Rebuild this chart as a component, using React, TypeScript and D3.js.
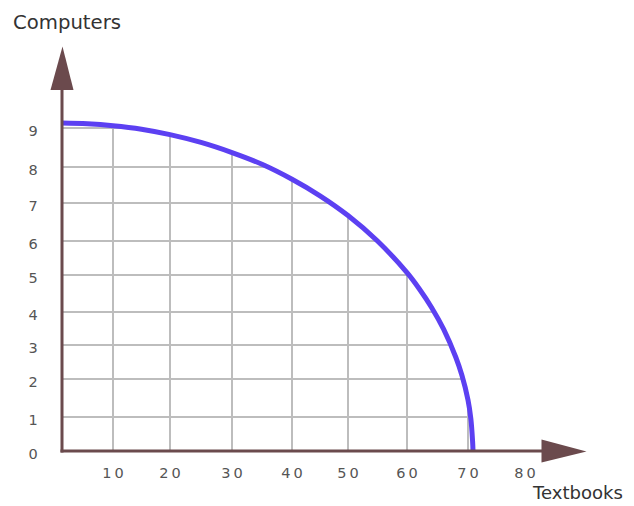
import React from "react";
import * as d3 from "d3";

const xTicks = [10, 20, 30, 40, 50, 60, 70, 80];
const yTicks = [0, 1, 2, 3, 4, 5, 6, 7, 8, 9];
const gridX = [10, 20, 30, 40, 50, 60, 70];
const gridY = [1, 2, 3, 4, 5, 6, 7, 8, 9];

// Production possibilities frontier (textbooks, computers)
const textbooks = [0, 5, 10, 15, 20, 25, 30, 35, 40, 45, 50, 55, 60, 62, 64, 66, 68, 69, 70, 70.5, 70.8, 70.88];
const computers = [9.13, 9.11, 9.06, 8.97, 8.83, 8.63, 8.37, 8.07, 7.66, 7.2, 6.67, 6.0, 5.07, 4.63, 4.13, 3.48, 2.64, 2.11, 1.45, 0.95, 0.3, 0];

const xLabel = "Textbooks";
const yLabel = "Computers";

export default function App() {
  const W = 634;
  const H = 506;
  // slightly irregular hand-drawn grid -> polylinear scales
  const x = d3
    .scaleLinear()
    .domain([0, 10, 20, 30, 40, 50, 60, 70, 80])
    .range([62, 113, 170, 232, 292, 348, 407, 468, 525]);
  const y = d3
    .scaleLinear()
    .domain([0, 1, 2, 3, 4, 5, 6, 7, 8, 9])
    .range([451, 417, 379, 345, 312, 275, 241, 203, 167, 128]);

  const pts: [number, number][] = textbooks.map((t, i) => [t, computers[i]]);
  const curve = d3.curveCatmullRom.alpha(0.5);
  const line = d3
    .line<[number, number]>()
    .x((d) => x(d[0]))
    .y((d) => y(d[1]))
    .curve(curve);
  const area = d3
    .area<[number, number]>()
    .x((d) => x(d[0]))
    .y0(y(0))
    .y1((d) => y(d[1]))
    .curve(curve);

  const axisColor = "#6b4a4d";
  const x0 = x(0);
  const y0 = y(0);

  return (
    <svg
      width={W}
      height={H}
      style={{ position: "absolute", left: 0, top: 0, background: "#fff" }}
    >
      <defs>
        <clipPath id="under">
          <path d={area(pts) || ""} />
        </clipPath>
      </defs>
      <g clipPath="url(#under)" stroke="#bdbdbd" strokeWidth={2}>
        {gridX.map((v) => (
          <line key={"gx" + v} x1={x(v)} x2={x(v)} y1={y0} y2={100} />
        ))}
        {gridY.map((v) => (
          <line key={"gy" + v} x1={x0} x2={500} y1={y(v)} y2={y(v)} />
        ))}
      </g>
      <path
        d={line(pts) || ""}
        fill="none"
        stroke="#5c40f2"
        strokeWidth={5}
      />
      {/* axes */}
      <line x1={x0} x2={x0} y1={y0 + 1.5} y2={88} stroke={axisColor} strokeWidth={3} />
      <path
        d={`M${x0 - 11.5},90 L${x0 + 11.5},90 L${x0 + 0.5},46.5 Z`}
        fill={axisColor}
      />
      <line x1={x0 - 1.5} x2={544} y1={y0} y2={y0} stroke={axisColor} strokeWidth={3} />
      <path
        d={`M541.5,${y0 - 11.5} L541.5,${y0 + 11.5} L586.5,${y0 + 0.5} Z`}
        fill={axisColor}
      />
      {/* tick labels */}
      <g fontFamily="DejaVu Sans, sans-serif" fontSize={14.5} fill="#555">
        {yTicks.map((v) => (
          <text key={"yl" + v} x={33} y={y(v) + 7.5} textAnchor="middle">
            {v}
          </text>
        ))}
        {xTicks.map((v) => (
          <text
            key={"xl" + v}
            x={x(v) + 1.5}
            y={478}
            textAnchor="middle"
            letterSpacing={3}
          >
            {v}
          </text>
        ))}
      </g>
      <g fontFamily="DejaVu Sans, sans-serif" fill="#333">
        <text x={13} y={28.5} fontSize={19} textLength={108} lengthAdjust="spacingAndGlyphs">
          {yLabel}
        </text>
        <text x={533} y={498.5} fontSize={17} textLength={90} lengthAdjust="spacingAndGlyphs">
          {xLabel}
        </text>
      </g>
    </svg>
  );
}
